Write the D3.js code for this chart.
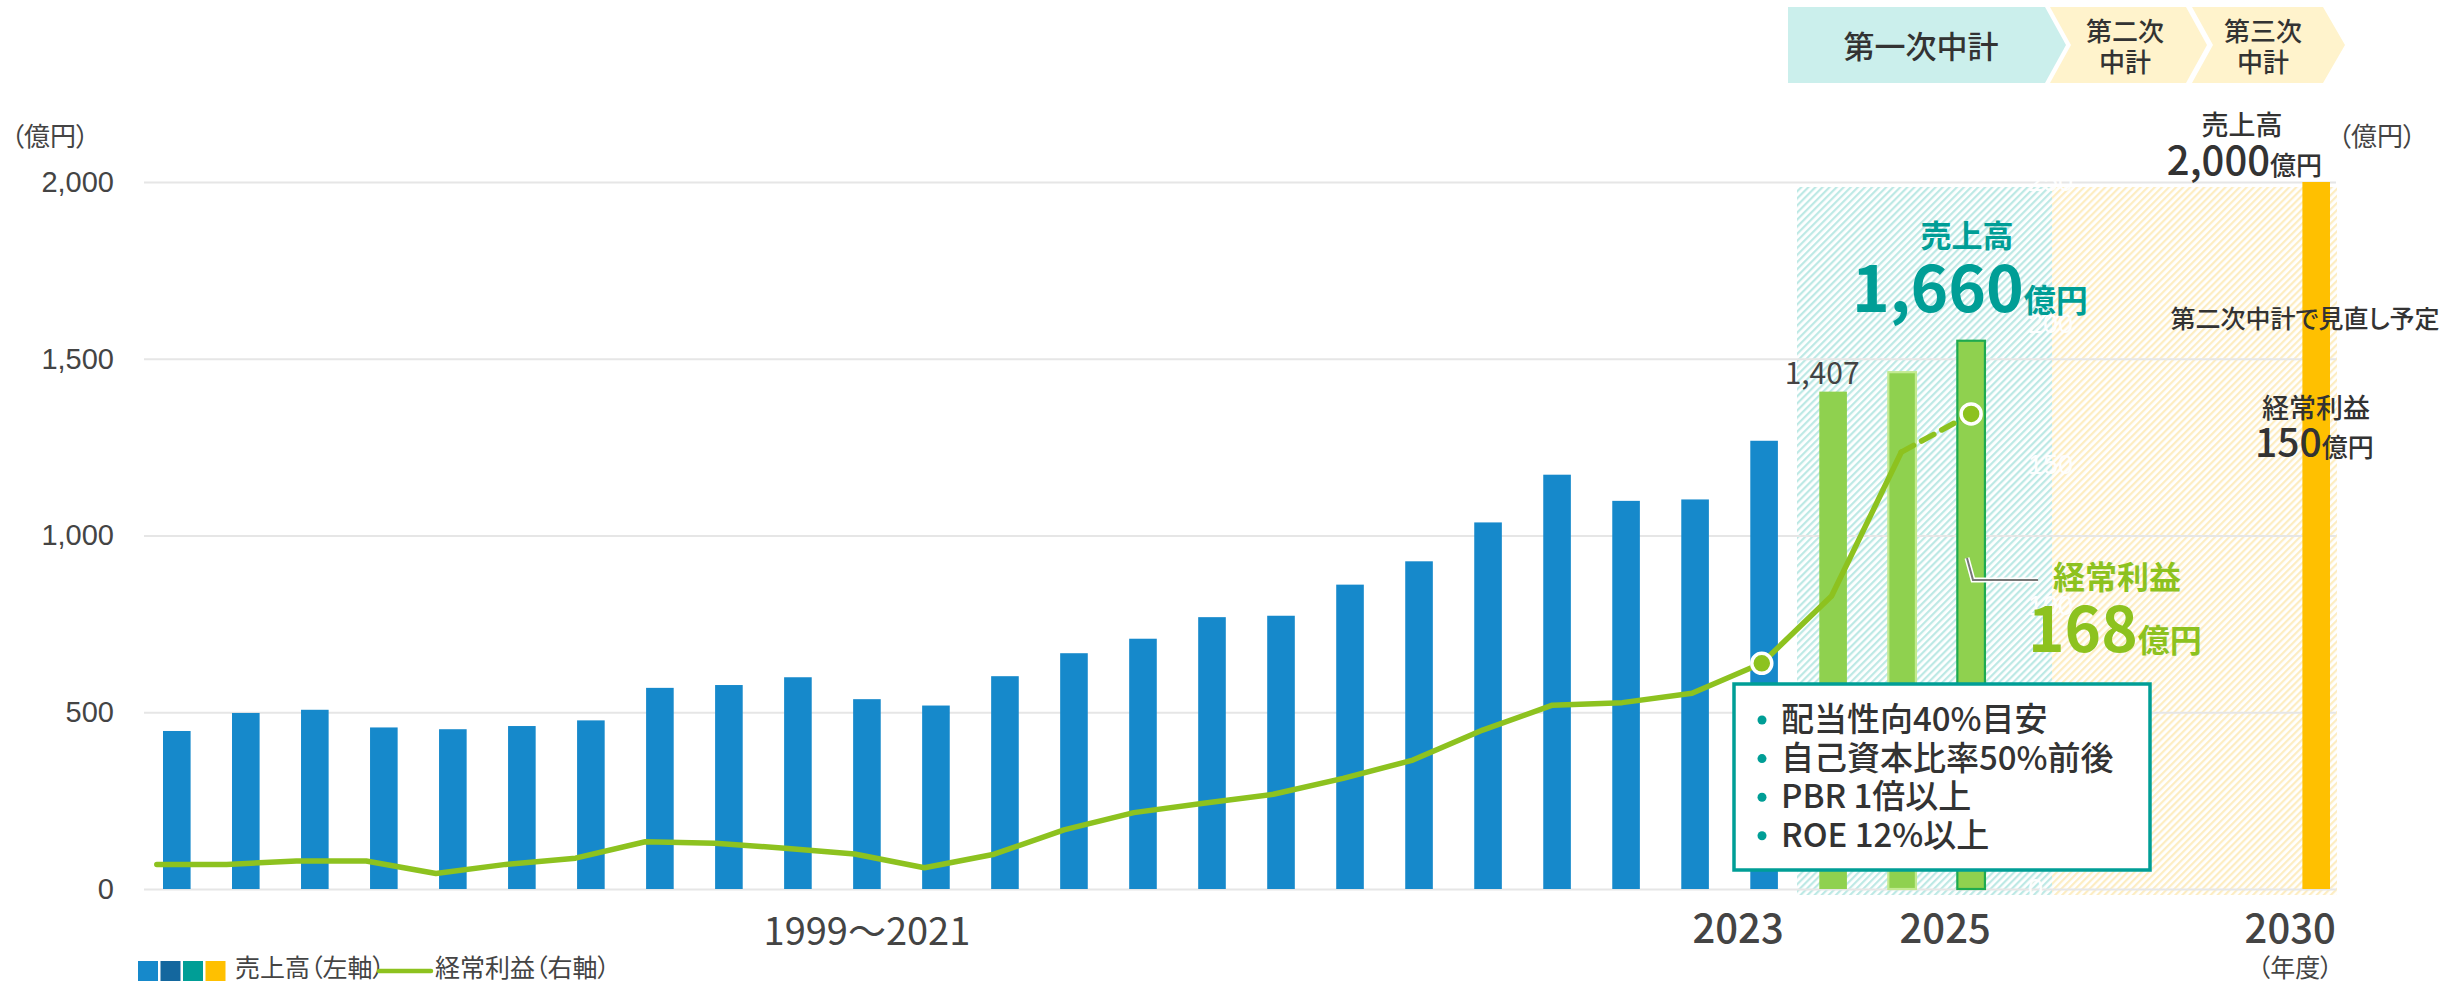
<!DOCTYPE html>
<html><head><meta charset="utf-8">
<script src="https://cdn.jsdelivr.net/npm/d3@7"></script>
<style>
html,body{margin:0;padding:0;background:#fff;}
svg{display:block;font-family:"Noto Sans CJK JP","Noto Sans",sans-serif;font-feature-settings:"palt";}
</style></head><body>
<svg id="chart" width="2458" height="985"></svg>
<script>
// ---------- DATA ----------
const years = ["1999","2000","2001","2002","2003","2004","2005","2006","2007","2008",
  "2009","2010","2011","2012","2013","2014","2015","2016","2017","2018","2019","2020",
  "2021","2022","2023","2024","2025","2026","2027","2028","2029","2030"];
const actualYears = ["1999","2000","2001","2002","2003","2004","2005","2006","2007","2008",
  "2009","2010","2011","2012","2013","2014","2015","2016","2017","2018","2019","2020","2021","2022"];
const salesActual = [447,498,507,457,452,461,477,569,577,599,537,519,602,667,708,769,773,861,927,1037,1172,1098,1102,1268];
const planYears = ["2023","2024","2025"];
const salesPlan = [1407,1462,1551];
const targetYears = ["2030"];
const salesTarget = [2000];
const profitYears = ["1999","2000","2001","2002","2003","2004","2005","2006","2007","2008",
  "2009","2010","2011","2012","2013","2014","2015","2016","2017","2018","2019","2020",
  "2021","2022","2023","2024","2025"];
const profit = [8.7,8.7,9.9,9.9,5.5,8.7,10.9,16.7,16.2,14.4,12.4,7.5,12.3,20.9,27,30.3,33.5,39.1,45.6,56.2,65,65.9,69.2,79.8,103.6,154.5,168];
const leftTicks = [0,500,1000,1500,2000];
const rightTicks = [0,50,100,150,200,250];
const xTickLabels = [
  {text:"1999～2021", at:"2009", strong:false},
  {text:"2023", at:"2022", strong:true},
  {text:"2025", at:"2025", strong:true},
  {text:"2030", at:"2030", strong:true}
];
const kpis = ["配当性向40%目安","自己資本比率50%前後","PBR 1倍以上","ROE 12%以上"];
const legendSwatches = ["#1689CB","#14679E","#009E96","#FFC000"];

// ---------- SETUP ----------
const svg = d3.select("#chart");
const C = {blue:"#1689CB", green:"#8FD14F", line:"#8DC21F", teal:"#009E96", yellow:"#FFC000", text:"#444", dark:"#333", grid:"#e6e6e6"};
const x = d3.scaleBand().domain(years).range([163,2330]).paddingInner(0.6).paddingOuter(0);
const xc = d => x(d) + x.bandwidth()/2;
const yL = d3.scaleLinear().domain([0,2000]).range([889,182]);
const yR = d3.scaleLinear().domain([0,250]).range([889,182]);
const xLine = d3.scalePoint().domain(profitYears).range([xc("1999")-20, xc("2025")]);

// patterns
const defs = svg.append("defs");
function stripe(id,color){
  const p = defs.append("pattern").attr("id",id).attr("width",5).attr("height",5)
    .attr("patternUnits","userSpaceOnUse").attr("patternTransform","rotate(45)");
  p.append("rect").attr("width",5).attr("height",5).attr("fill","#fff");
  p.append("rect").attr("width",2.2).attr("height",5).attr("fill",color);
}
stripe("hatchTeal","#bde9e5");
stripe("hatchYellow","#fdedc2");

// hatched plan regions
svg.append("rect").attr("x",1797).attr("y",187).attr("width",2052-1797).attr("height",895-187).attr("fill","url(#hatchTeal)");
svg.append("rect").attr("x",2052).attr("y",187).attr("width",2337-2052).attr("height",895-187).attr("fill","url(#hatchYellow)");

// left axis with gridlines
const gL = svg.append("g").attr("transform","translate(144,0)")
  .call(d3.axisLeft(yL).tickValues(leftTicks).tickFormat(d3.format(",")).tickSize(-(2336-144)).tickPadding(30));
gL.select(".domain").remove();
gL.selectAll(".tick line").attr("stroke",C.grid).attr("stroke-width",2);
gL.selectAll(".tick text").attr("fill",C.text).attr("font-size",29).attr("font-family",null);

// right axis (white labels inside hatch)
const gR = svg.append("g").attr("transform","translate(2028,0)")
  .call(d3.axisRight(yR).tickValues(rightTicks).tickSize(0).tickPadding(0));
gR.select(".domain").remove();
gR.selectAll(".tick text").attr("fill","#fff").attr("font-size",27).attr("font-family",null).attr("opacity",0.95);

// bars
svg.append("g").selectAll("rect").data(actualYears.map((d,i)=>({k:d,v:salesActual[i]}))).join("rect")
  .attr("x",d=>x(d.k)).attr("width",x.bandwidth()).attr("y",d=>yL(d.v)).attr("height",d=>yL(0)-yL(d.v))
  .attr("fill",C.blue);
svg.append("g").selectAll("rect").data(planYears.map((d,i)=>({k:d,v:salesPlan[i],i}))).join("rect")
  .attr("x",d=>x(d.k)).attr("width",x.bandwidth()).attr("y",d=>yL(d.v)).attr("height",d=>yL(0)-yL(d.v))
  .attr("fill",C.green)
  .attr("stroke",d=>d.i===1?"#c3ea92":(d.i===2?"#1EAA50":"none"))
  .attr("stroke-width",2.2);
svg.append("g").selectAll("rect").data(targetYears.map((d,i)=>({k:d,v:salesTarget[i]}))).join("rect")
  .attr("x",d=>x(d.k)).attr("width",x.bandwidth()).attr("y",d=>yL(d.v)).attr("height",d=>yL(0)-yL(d.v))
  .attr("fill",C.yellow);

// profit line
const pts = profitYears.map((d,i)=>[xLine(d), yR(profit[i])]);
const line = d3.line();
svg.append("path").attr("d",line(pts.slice(0,26))).attr("fill","none").attr("stroke",C.line)
  .attr("stroke-width",5.5).attr("stroke-linejoin","round").attr("stroke-linecap","round");
svg.append("path").attr("d",line(pts.slice(25))).attr("fill","none").attr("stroke",C.line)
  .attr("stroke-width",5.5).attr("stroke-dasharray","14 9").attr("stroke-linecap","round");
svg.append("g").selectAll("circle").data([pts[23],pts[26]]).join("circle")
  .attr("cx",d=>d[0]).attr("cy",d=>d[1]).attr("r",10).attr("fill",C.line).attr("stroke","#fff").attr("stroke-width",3.5);

// x labels
svg.append("g").selectAll("text").data(xTickLabels).join("text")
  .attr("x",d=>d.strong? xc(d.at)-26 : xc(d.at))
  .attr("y",d=>d.strong?943:945)
  .attr("text-anchor","middle")
  .attr("font-size",d=>d.strong?40:38)
  .attr("font-weight",d=>d.strong?500:400)
  .attr("fill",C.text).text(d=>d.text);
svg.append("text").attr("x",xc("2030")-21).attr("y",977).attr("text-anchor","middle")
  .attr("font-size",25).attr("fill",C.text).text("（年度）");

// unit labels
svg.append("text").attr("x",11).attr("y",146).attr("font-size",26).attr("fill",C.text).text("（億円）");
svg.append("text").attr("x",2338).attr("y",146).attr("font-size",26).attr("fill",C.text).text("（億円）");

// 1,407 label
svg.append("text").attr("x",xc("2023")-11).attr("y",yL(salesPlan[0])-8).attr("text-anchor","middle")
  .attr("font-size",30).attr("fill",C.text).text(d3.format(",")(salesPlan[0]));

// 売上高 1,660億円 callout
svg.append("text").attr("x",1967).attr("y",247).attr("text-anchor","middle")
  .attr("font-size",31).attr("font-weight",700).attr("fill",C.teal).text("売上高");
const t1 = svg.append("text").attr("x",1852).attr("y",312).attr("fill",C.teal).attr("font-weight",700);
t1.append("tspan").attr("font-size",64).text("1,660");
t1.append("tspan").attr("font-size",32).text("億円");

// 経常利益 168億円 callout
svg.append("polyline").attr("points",[[1967,558],[1973,580],[2038,580]].join(" "))
  .attr("fill","none").attr("stroke","#fff").attr("stroke-width",5);
svg.append("polyline").attr("points",[[1967,558],[1973,580],[2038,580]].join(" "))
  .attr("fill","none").attr("stroke","#777").attr("stroke-width",2);
svg.append("text").attr("x",2053).attr("y",589).attr("font-size",32).attr("font-weight",700)
  .attr("fill",C.line).text("経常利益");
const t2 = svg.append("text").attr("x",2028).attr("y",652).attr("fill",C.line).attr("font-weight",700);
t2.append("tspan").attr("font-size",62).text("168");
t2.append("tspan").attr("font-size",32).text("億円");

// 2030 annotations
svg.append("text").attr("x",2242).attr("y",135).attr("text-anchor","middle")
  .attr("font-size",27).attr("font-weight",500).attr("fill",C.dark).text("売上高");
const t3 = svg.append("text").attr("x",2322).attr("y",175).attr("text-anchor","end").attr("fill",C.dark).attr("font-weight",500);
t3.append("tspan").attr("font-size",40).text("2,000");
t3.append("tspan").attr("font-size",26).text("億円");
svg.append("text").attr("x",2305).attr("y",328).attr("text-anchor","middle")
  .attr("font-size",25).attr("font-weight",500).attr("fill",C.dark).text("第二次中計で見直し予定");
svg.append("text").attr("x",2316).attr("y",418).attr("text-anchor","middle")
  .attr("font-size",27).attr("font-weight",500).attr("fill",C.dark).text("経常利益");
const t4 = svg.append("text").attr("x",2255).attr("y",457).attr("fill",C.dark).attr("font-weight",500);
t4.append("tspan").attr("font-size",39).text("150");
t4.append("tspan").attr("font-size",26).text("億円");

// KPI box
svg.append("rect").attr("x",1734).attr("y",684).attr("width",416).attr("height",186)
  .attr("fill","#fff").attr("stroke",C.teal).attr("stroke-width",3.5);
const kb = svg.append("g");
kb.selectAll("circle").data(kpis).join("circle")
  .attr("cx",1762).attr("cy",(d,i)=>720+i*38.6).attr("r",4.5).attr("fill",C.teal);
kb.selectAll("text").data(kpis).join("text")
  .attr("x",1781).attr("y",(d,i)=>731+i*38.6).attr("font-size",33).attr("font-weight",500)
  .attr("fill",C.dark).text(d=>d);

// header chevrons
const hdr = svg.append("g");
hdr.append("polygon").attr("points","1788,7 2045,7 2066,45 2045,83 1788,83").attr("fill","#CBEFEC");
hdr.append("polygon").attr("points","2050,7 2186,7 2207,45 2186,83 2050,83 2071,45").attr("fill","#FFF3CC");
hdr.append("polygon").attr("points","2192,7 2323,7 2345,45 2323,83 2192,83 2213,45").attr("fill","#FFF3CC");
hdr.append("text").attr("x",1921).attr("y",58).attr("text-anchor","middle").attr("font-size",31)
  .attr("font-weight",500).attr("fill",C.dark).text("第一次中計");
[[2125,"第二次"],[2263,"第三次"]].forEach(([cx,t])=>{
  hdr.append("text").attr("x",cx).attr("y",41).attr("text-anchor","middle").attr("font-size",26)
    .attr("font-weight",500).attr("fill",C.dark).text(t);
  hdr.append("text").attr("x",cx).attr("y",72).attr("text-anchor","middle").attr("font-size",26)
    .attr("font-weight",500).attr("fill",C.dark).text("中計");
});

// legend
const lg = svg.append("g");
lg.selectAll("rect").data(legendSwatches).join("rect")
  .attr("x",(d,i)=>138+i*22.5).attr("y",961).attr("width",20).attr("height",20).attr("fill",d=>d);
lg.append("text").attr("x",235).attr("y",977).attr("font-size",25).attr("fill",C.text).text("売上高（左軸）");
lg.append("line").attr("x1",379).attr("x2",431).attr("y1",971).attr("y2",971)
  .attr("stroke",C.line).attr("stroke-width",4.5).attr("stroke-linecap","round");
lg.append("text").attr("x",435).attr("y",977).attr("font-size",25).attr("fill",C.text).text("経常利益（右軸）");
</script></body></html>
